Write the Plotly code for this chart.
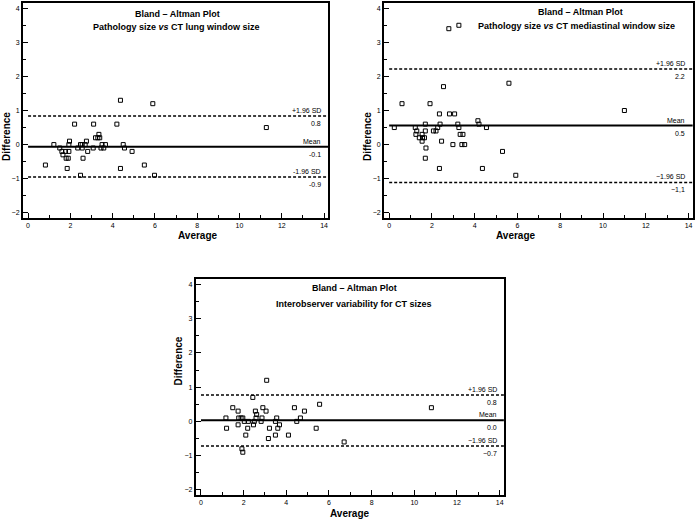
import plotly.graph_objects as go

# ---- data ----
avg1 = [0.82, 1.22, 1.5, 1.6, 1.65, 1.8, 1.9, 1.77, 1.93, 1.93, 1.96, 1.85, 2.2, 2.35, 2.48, 2.56,
        2.48, 2.56, 2.6, 2.7, 2.76, 2.82, 3.08, 3.1, 3.19, 3.35, 3.39, 3.3, 3.45, 3.5, 3.58, 3.66,
        4.2, 4.37, 4.37, 4.5, 4.56, 4.92, 5.5, 5.9, 5.98, 11.27]
diff1 = [-0.6, 0.0, -0.1, -0.2, -0.3, -0.4, -0.4, -0.2, -0.2, 0.0, 0.1, -0.7, 0.6, -0.1, 0.0, 0.0,
         -0.9, -0.1, -0.4, 0.0, 0.1, -0.2, -0.1, 0.6, 0.2, 0.3, 0.2, 0.2, -0.1, 0.0, -0.1, 0.0,
         0.6, 1.3, -0.7, 0.0, -0.1, -0.2, -0.6, 1.2, -0.9, 0.5]
stats1 = [-0.06, 0.84, -0.95]
labels1 = ["-0.1", "0.8", "-0.9"]

avg2 = [0.24, 0.6, 1.22, 1.25, 1.29, 1.41, 1.54, 1.54, 1.56, 1.65, 1.69, 1.69, 1.72, 1.69, 1.91,
        2.07, 2.19, 2.27, 2.35, 2.35, 2.38, 2.45, 2.54, 2.82, 3.06, 2.79, 3.26, 2.98, 3.21, 3.26,
        3.32, 3.45, 3.4, 3.53, 4.15, 4.2, 4.36, 4.55, 5.3, 5.6, 5.92, 11.0]
diff2 = [0.5, 1.2, 0.5, 0.3, 0.4, 0.2, 0.3, 0.1, 0.2, 0.2, 0.6, 0.4, -0.1, -0.4, 1.2,
         0.4, 0.4, 0.5, 0.9, -0.7, 0.6, 0.1, 1.7, 0.9, 0.9, 3.4, 3.5, 0.0, 0.6, 0.5,
         0.3, 0.3, 0.0, 0.0, 0.7, 0.6, -0.7, 0.5, -0.2, 1.8, -0.9, 1.0]
stats2 = [0.56, 2.22, -1.11]
labels2 = ["0.5", "2.2", "\u22121,1"]

avg3 = [1.17, 1.2, 1.49, 1.74, 1.77, 1.74, 1.88, 1.96, 1.92, 1.96, 2.03, 2.1, 2.22, 2.19, 2.43,
        2.46, 2.5, 2.55, 2.58, 2.61, 2.82, 2.86, 2.9, 3.05, 3.08, 3.16, 3.21, 3.49, 3.49, 3.55,
        3.6, 3.68, 4.1, 4.38, 4.49, 4.66, 4.85, 5.4, 5.56, 6.71, 10.8]
diff3 = [0.1, -0.2, 0.4, 0.3, 0.1, -0.1, 0.1, 0.1, -0.8, -0.9, 0.0, -0.4, 0.0, -0.2, 0.7,
         -0.1, 0.0, 0.3, 0.1, 0.2, 0.0, 0.1, 0.4, 0.3, 1.2, -0.5, -0.2, -0.4, 0.0, 0.1,
         -0.2, -0.1, -0.4, 0.4, 0.0, 0.1, 0.3, -0.2, 0.5, -0.6, 0.4]
stats3 = [0.03, 0.77, -0.72]
labels3 = ["0.0", "0.8", "\u22120.7"]

subtitles = ["Pathology size <i>vs</i> CT lung window size",
             "Pathology size <i>vs</i> CT mediastinal window size",
             "Interobserver variability for CT sizes"]
sd_labels = [("+1.96 SD", "-1.96 SD"), ("+1.96 SD", "\u22121.96 SD"), ("+1.96 SD", "\u22121.96 SD")]
x_ticks = [0, 2, 4, 6, 8, 10, 12, 14]
y_ticks = [-2, -1, 0, 1, 2, 3, 4]
y_ticktext = ["\u22122", "\u22121", "0", "1", "2", "3", "4"]

FONT = "Liberation Sans"
fig = go.Figure()

panels = [
    dict(x=avg1, y=diff1, stats=stats1, labels=labels1, xd=[0.033, 0.471], yd=[0.581, 0.994],
         t1=(7.06, 3.82), t2=(7.0, 3.44)),
    dict(x=avg2, y=diff2, stats=stats2, labels=labels2, xd=[0.551, 0.994], yd=[0.581, 0.994],
         t1=(8.96, 3.9), t2=(8.77, 3.47)),
    dict(x=avg3, y=diff3, stats=stats3, labels=labels3, xd=[0.281, 0.723], yd=[0.048, 0.463],
         t1=(7.2, 3.88), t2=(7.15, 3.42)),
]

ann = []
shapes = []
for i, p in enumerate(panels):
    n = "" if i == 0 else str(i + 1)
    xa, ya = "x" + n, "y" + n
    fig.add_trace(go.Scatter(x=p["x"], y=p["y"], mode="markers", xaxis=xa, yaxis=ya,
                             marker=dict(symbol="square-open", size=4, color="black",
                                         line=dict(width=1, color="black")),
                             showlegend=False, hoverinfo="skip"))
    mean, up, lo = p["stats"]
    for val, dash, w in [(mean, "solid", 2), (up, "3px,2px", 1.5), (lo, "3px,2px", 1.5)]:
        shapes.append(dict(type="line", xref=xa, yref=ya, x0=0, x1=14.2, y0=val, y1=val,
                           line=dict(color="black", width=w, dash=dash)))
    lab_mean, lab_up, lab_lo = p["labels"]
    sdu, sdl = sd_labels[i]
    for val, top, bot in [(mean, "Mean", lab_mean), (up, sdu, lab_up), (lo, sdl, lab_lo)]:
        ann.append(dict(x=13.95, y=val, xref=xa, yref=ya, text=top, showarrow=False,
                        xanchor="right", yanchor="bottom", yshift=0,
                        font=dict(family=FONT, size=7, color="black")))
        ann.append(dict(x=13.95, y=val, xref=xa, yref=ya, text=bot, showarrow=False,
                        xanchor="right", yanchor="top", yshift=-2,
                        font=dict(family=FONT, size=7, color="black")))
    ann.append(dict(x=p["t1"][0], y=p["t1"][1], xref=xa, yref=ya, text="<b>Bland \u2013 Altman Plot</b>",
                    showarrow=False, font=dict(family=FONT, size=9, color="black")))
    ann.append(dict(x=p["t2"][0], y=p["t2"][1], xref=xa, yref=ya, text="<b>" + subtitles[i] + "</b>",
                    showarrow=False, font=dict(family=FONT, size=9, color="black")))
    # axis titles
    xmid = (p["xd"][0] + p["xd"][1]) / 2
    ann.append(dict(x=xmid, y=p["yd"][0], xref="paper", yref="paper", yshift=-18,
                    text="<b>Average</b>", showarrow=False, yanchor="middle",
                    font=dict(family=FONT, size=10, color="black")))
    ymid = (p["yd"][0] + p["yd"][1]) / 2
    ann.append(dict(x=p["xd"][0], y=ymid, xref="paper", yref="paper", xshift=-17,
                    text="<b>Difference</b>", showarrow=False, textangle=-90, xanchor="center",
                    font=dict(family=FONT, size=10, color="black")))

    axis_common = dict(showline=True, mirror=True, linecolor="black", linewidth=2,
                       showgrid=False, zeroline=False, ticks="inside", ticklen=5,
                       tickcolor="black", tickwidth=1,
                       tickfont=dict(family=FONT, size=7, color="black"))
    fig.update_layout(**{
        "xaxis" + n: dict(domain=p["xd"], range=[-0.24, 14.2], anchor=ya,
                          tickvals=x_ticks,
                          minor=dict(ticks="inside", dtick=1, ticklen=3, tickcolor="black"),
                          **axis_common),
        "yaxis" + n: dict(domain=p["yd"], range=[-2.15, 4.15], anchor=xa,
                          tickvals=y_ticks, ticktext=y_ticktext,
                          minor=dict(ticks="inside", dtick=0.5, ticklen=3, tickcolor="black"),
                          **axis_common),
    })

fig.update_layout(width=697, height=520, margin=dict(l=0, r=0, t=0, b=0),
                  paper_bgcolor="white", plot_bgcolor="white",
                  annotations=ann, shapes=shapes, showlegend=False)
fig.write_html("out.html", config={"displayModeBar": False},
               post_script="document.body.style.margin='0';")
